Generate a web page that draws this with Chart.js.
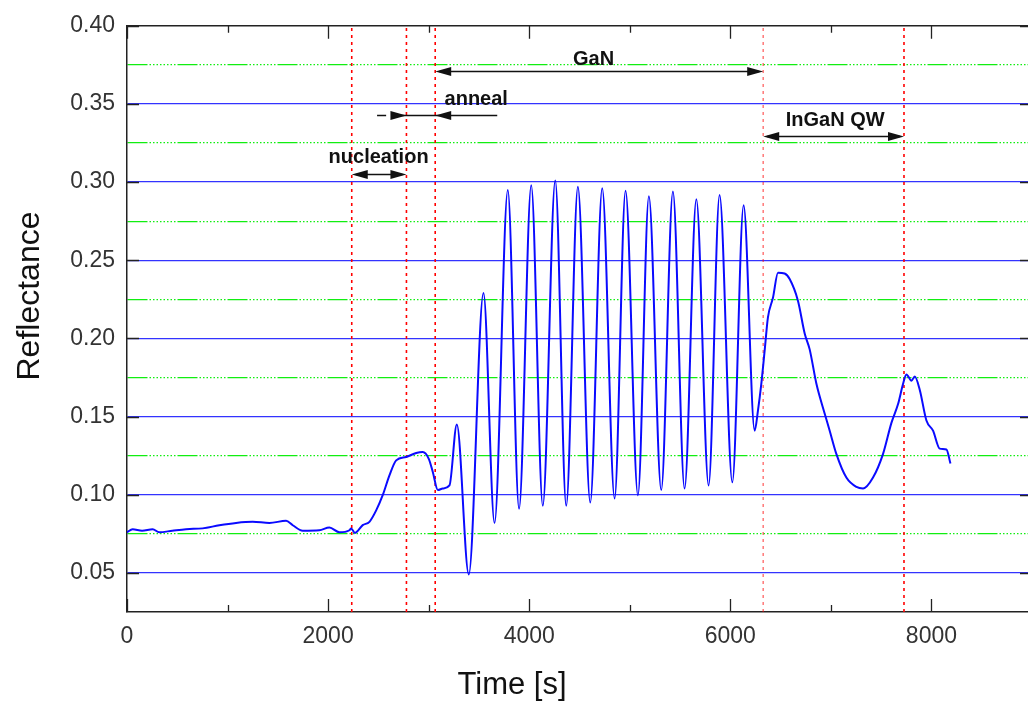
<!DOCTYPE html>
<html>
<head>
<meta charset="utf-8">
<title>Reflectance vs time</title>
<script src="https://cdn.jsdelivr.net/npm/chart.js@4"></script>
<style>
  html, body { margin: 0; padding: 0; background: #fff; overflow: hidden; }
  canvas { display: block; }
</style>
</head>
<body>
<canvas id="reflChart" width="1043" height="704"></canvas>
<script>
// in-situ reflectance trace
const timeS = [
  0, 56, 150, 255, 321, 450, 587, 752, 918, 1085, 1250, 1416, 1582, 1648, 1747, 1913,
  2013, 2112, 2212, 2229, 2267, 2344, 2411, 2478, 2543, 2610, 2677, 2776, 2876, 2941,
  3001, 3041, 3091, 3140, 3207, 3280, 3399, 3545, 3655, 3787, 3899, 4020, 4135, 4259,
  4368, 4484, 4607, 4726, 4849, 4958, 5081, 5190, 5313, 5429, 5545, 5662, 5784, 5893,
  6020, 6132, 6242, 6275, 6308, 6341, 6374, 6424, 6474, 6540, 6590, 6673, 6740, 6789,
  6856, 6938, 6988, 7055, 7154, 7254, 7320, 7419, 7518, 7602, 7668, 7718, 7751, 7801,
  7834, 7884, 7950, 8016, 8082, 8149, 8189
];
const reflectance = [
  0.076, 0.078, 0.077, 0.078, 0.076, 0.077, 0.078, 0.0785, 0.0805, 0.082, 0.0827, 0.082, 0.0833, 0.0805, 0.077, 0.0773,
  0.079, 0.076, 0.0773, 0.0784, 0.0756, 0.0806, 0.0827, 0.090, 0.0997, 0.1124, 0.122, 0.1242, 0.1267, 0.1273,
  0.123, 0.1146, 0.103, 0.104, 0.106, 0.145, 0.049, 0.229, 0.082, 0.295, 0.091, 0.298, 0.093, 0.301,
  0.093, 0.297, 0.095, 0.296, 0.0976, 0.2945, 0.0997, 0.291, 0.103, 0.294, 0.104, 0.289, 0.106, 0.2917,
  0.108, 0.2852, 0.141, 0.154, 0.171, 0.192, 0.2135, 0.226, 0.242, 0.2415, 0.238, 0.224, 0.203, 0.193,
  0.171, 0.152, 0.141, 0.126, 0.111, 0.105, 0.104, 0.111, 0.126, 0.146, 0.158, 0.171, 0.177, 0.173,
  0.1756, 0.167, 0.1475, 0.141, 0.1295, 0.129, 0.120
];

// growth step boundaries (red dotted lines)
const eventTimes = [2235, 2779, 3065, 6327, 7727];
const stepLabels = ['nucleation', 'anneal', 'GaN', 'InGaN QW'];

const xRange = [0, 9000];
const yRange = [0.025, 0.40];

const isMajorY = v => Math.round(v * 1000) % 50 === 0;

// where each step label and its arrow sit (data units)
const stepMarks = [
  { from: 0, to: 1, arrowY: 0.3049, textX: 2502, textY: 0.3123, align: 'center' },
  { from: 1, to: 2, arrowY: 0.3432, textX: 3158, textY: 0.3496, align: 'left', inward: true, tailL: 2487, dashEnd: 2577, tailR: 3682 },
  { from: 2, to: 3, arrowY: 0.3713, textX: 4640, textY: 0.3751, align: 'center' },
  { from: 3, to: 4, arrowY: 0.3294, textX: 7043, textY: 0.3358, align: 'center' }
];

function head(ctx, tip, y, dir) {
  ctx.beginPath();
  ctx.moveTo(tip, y);
  ctx.lineTo(tip - 16 * dir, y - 4.5);
  ctx.lineTo(tip - 16 * dir, y + 4.5);
  ctx.closePath();
  ctx.fill();
}

const overlay = {
  id: 'overlay',
  afterDraw(chart) {
    const { ctx, chartArea: a, scales } = chart;
    const xs = scales.x, ys = scales.y;
    ctx.save();

    // inward tick marks on all four sides
    ctx.strokeStyle = '#222';
    ctx.lineWidth = 1.3;
    ctx.beginPath();
    for (let v = xRange[0]; v <= xRange[1]; v += 1000) {
      const px = Math.round(xs.getPixelForValue(v)) + 0.5;
      const len = v % 2000 === 0 ? 13 : 7;
      ctx.moveTo(px, a.bottom); ctx.lineTo(px, a.bottom - len);
      ctx.moveTo(px, a.top); ctx.lineTo(px, a.top + len);
    }
    ys.ticks.forEach(t => {
      const py = Math.round(ys.getPixelForValue(t.value)) + 0.5;
      const len = isMajorY(t.value) ? 12 : 0;
      ctx.moveTo(a.left, py); ctx.lineTo(a.left + len, py);
      ctx.moveTo(a.right, py); ctx.lineTo(a.right - len, py);
    });
    ctx.stroke();

    // step arrows and labels
    ctx.fillStyle = '#111';
    ctx.strokeStyle = '#111';
    ctx.lineWidth = 1.5;
    ctx.font = 'bold 20px "Liberation Sans", Arial, sans-serif';
    ctx.textBaseline = 'alphabetic';
    stepMarks.forEach((m, i) => {
      const x1 = xs.getPixelForValue(eventTimes[m.from]);
      const x2 = xs.getPixelForValue(eventTimes[m.to]);
      const y = Math.round(ys.getPixelForValue(m.arrowY)) + 0.5;
      ctx.beginPath();
      if (m.inward) {
        ctx.moveTo(xs.getPixelForValue(m.tailL), y);
        ctx.lineTo(xs.getPixelForValue(m.dashEnd), y);
        ctx.moveTo(x1 - 12, y);
        ctx.lineTo(xs.getPixelForValue(m.tailR), y);
        ctx.stroke();
        head(ctx, x1, y, 1);
        head(ctx, x2, y, -1);
      } else {
        ctx.moveTo(x1 + 4, y);
        ctx.lineTo(x2 - 4, y);
        ctx.stroke();
        head(ctx, x1, y, -1);
        head(ctx, x2, y, 1);
      }
      ctx.textAlign = m.align;
      ctx.fillText(stepLabels[i], xs.getPixelForValue(m.textX), ys.getPixelForValue(m.textY));
    });

    // axis titles
    ctx.fillStyle = '#111';
    ctx.font = '31px "Liberation Sans", Arial, sans-serif';
    ctx.textAlign = 'center';
    ctx.textBaseline = 'middle';
    ctx.fillText('Time [s]', 512, 685);
    ctx.font = '32px "Liberation Sans", Arial, sans-serif';
    ctx.translate(30, 296);
    ctx.rotate(-Math.PI / 2);
    ctx.fillText('Reflectance', 0, 0);
    ctx.restore();
  }
};

const greenDash = [20, 2, 1.5, 2, 1.5, 2, 1.5, 2, 1.5, 2, 1.5, 2, 1.5, 2, 1.5, 2, 1.5, 2];

const eventSets = eventTimes.map((t, i) => ({
  data: [{ x: t, y: yRange[0] }, { x: t, y: yRange[1] }],
  borderColor: i === 3 ? 'rgba(255,0,0,0.5)' : '#ff0000',
  borderWidth: 1.6,
  borderDash: [3, 4],
  pointRadius: 0
}));

new Chart(document.getElementById('reflChart'), {
  type: 'line',
  data: {
    datasets: [{
      data: timeS.map((t, i) => ({ x: t, y: reflectance[i] })),
      borderColor: '#0a0aff',
      borderWidth: 2,
      pointRadius: 0,
      cubicInterpolationMode: 'monotone'
    }, ...eventSets]
  },
  plugins: [overlay],
  options: {
    responsive: false,
    animation: false,
    layout: { padding: { left: 0, right: 0, top: 0, bottom: 0 } },
    plugins: { legend: { display: false }, tooltip: { enabled: false } },
    scales: {
      x: {
        type: 'linear',
        position: 'bottom',
        min: xRange[0], max: xRange[1],
        afterFit: s => { s.height = 92; },
        grid: { display: false, drawTicks: false },
        border: { display: true, color: '#222', width: 1.5 },
        ticks: {
          stepSize: 1000, autoSkip: false, maxRotation: 0, padding: 11,
          color: '#333',
          font: { family: '"Liberation Sans", Arial, sans-serif', size: 23 },
          callback: v => (v % 2000 === 0 && v < xRange[1]) ? String(v) : ''
        }
      },
      xTop: {
        type: 'linear',
        position: 'top',
        min: xRange[0], max: xRange[1],
        afterFit: s => { s.height = 24; },
        grid: { display: false, drawTicks: false },
        border: { display: true, color: '#222', width: 1.5 },
        ticks: { display: false }
      },
      y: {
        type: 'linear',
        min: yRange[0], max: yRange[1],
        afterFit: s => { s.width = 127; },
        grid: {
          drawTicks: false,
          lineWidth: 1.3,
          color: c => {
            const v = c.tick ? c.tick.value : 0;
            if (v <= yRange[0] + 1e-6 || v >= yRange[1] - 1e-6) return 'rgba(0,0,0,0)';
            return isMajorY(v) ? '#3333ff' : '#11ee11';
          }
        },
        border: {
          display: true, color: '#222', width: 1.5,
          dash: c => (c.tick && !isMajorY(c.tick.value)) ? greenDash : []
        },
        ticks: {
          stepSize: 0.025, autoSkip: false, padding: 12,
          color: '#333',
          font: { family: '"Liberation Sans", Arial, sans-serif', size: 23 },
          callback: v => isMajorY(v) ? v.toFixed(2) : ''
        }
      }
    }
  }
});
</script>
</body>
</html>
